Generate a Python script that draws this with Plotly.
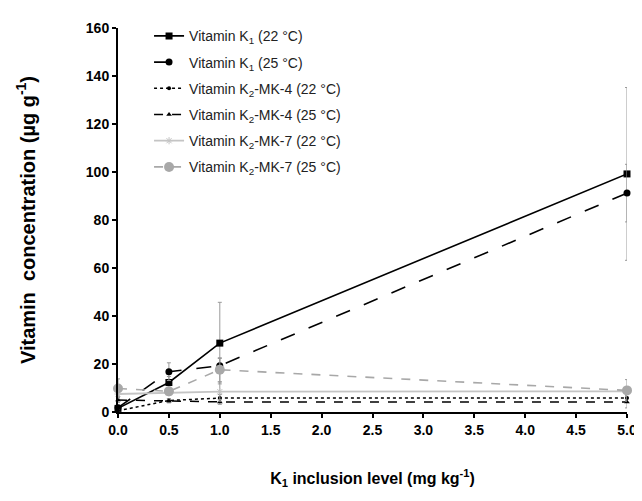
import plotly.graph_objects as go

x_levels = [0.0, 0.5, 1.0, 5.0]

k1_22 = [1.5, 12.3, 28.7, 99.2]
k1_22_err = [0.5, 2.5, 17.0, 36.0]
k1_25 = [1.8, 16.8, 19.3, 91.2]
k1_25_err = [0.8, 3.7, 3.0, 12.0]
mk4_22 = [0.5, 4.8, 5.8, 5.8]
mk4_22_err = [0.3, 0.8, 1.5, 1.0]
mk4_25 = [5.0, 4.6, 4.2, 4.2]
mk4_25_err = [1.0, 0.8, 1.0, 2.5]
mk7_22 = [7.5, 8.0, 8.5, 8.6]
mk7_22_err = [1.0, 1.0, 4.0, 1.0]
mk7_25 = [9.8, 8.6, 17.6, 9.0]
mk7_25_err = [4.0, 1.0, 5.0, 4.5]

names = [
    "Vitamin K<sub>1</sub> (22 °C)",
    "Vitamin K<sub>1</sub> (25 °C)",
    "Vitamin K<sub>2</sub>-MK-4 (22 °C)",
    "Vitamin K<sub>2</sub>-MK-4 (25 °C)",
    "Vitamin K<sub>2</sub>-MK-7 (22 °C)",
    "Vitamin K<sub>2</sub>-MK-7 (25 °C)",
]

series = [
    (k1_22, k1_22_err, dict(color="black", width=1.6, dash="solid"), dict(symbol="square", size=7, color="black")),
    (k1_25, k1_25_err, dict(color="black", width=1.6, dash="longdash"), dict(symbol="circle", size=7, color="black")),
    (mk4_22, mk4_22_err, dict(color="black", width=1.5, dash="dot"), dict(symbol="circle", size=4, color="black")),
    (mk4_25, mk4_25_err, dict(color="black", width=1.5, dash="dash"), dict(symbol="triangle-up", size=5, color="black")),
    (mk7_22, mk7_22_err, dict(color="#c4c4c4", width=1.8, dash="solid"), dict(symbol="asterisk", size=6, color="#c4c4c4", line=dict(color="#c4c4c4", width=1))),
    (mk7_25, mk7_25_err, dict(color="#a8a8a8", width=1.6, dash="dash"), dict(symbol="circle", size=10, color="#a8a8a8")),
]

fig = go.Figure()
for i, (vals, err, line, marker) in enumerate(series):
    fig.add_trace(go.Scatter(
        x=x_levels, y=vals, name=names[i], mode="lines+markers",
        line=line, marker=marker, legendgroup=f"g{i}",
        error_y=dict(type="data", array=err, visible=True, color="#9a9a9a", thickness=1, width=2),
        cliponaxis=False,
    ))

font_family = "Liberation Sans, Arial, sans-serif"
# the page body has an 8px default margin, so the figure is sized to fit inside it
fig.update_layout(
    width=634, height=493,
    margin=dict(l=110, r=15, t=12, b=89),
    paper_bgcolor="white", plot_bgcolor="white",
    font=dict(family=font_family, color="black"),
    legend=dict(x=0.061, y=1.02, xanchor="left", yanchor="top",
                font=dict(size=14, color="#222"), tracegroupgap=5,
                bgcolor="rgba(0,0,0,0)"),
    xaxis=dict(range=[0, 5], tickvals=[0, 0.5, 1, 1.5, 2, 2.5, 3, 3.5, 4, 4.5, 5],
               ticktext=["0.0", "0.5", "1.0", "1.5", "2.0", "2.5", "3.0", "3.5", "4.0", "4.5", "5.0"],
               showline=True, linecolor="black", linewidth=2, ticks="outside",
               ticklen=4, tickwidth=2, tickcolor="black", showgrid=False, zeroline=False,
               automargin=False,
               tickfont=dict(size=14, family=font_family, weight="bold"),
               title=dict(text="K<sub>1</sub> inclusion level (mg kg<sup>-1</sup>)",
                          font=dict(size=16, weight="bold"), standoff=36)),
    yaxis=dict(range=[0, 160], tickvals=[0, 20, 40, 60, 80, 100, 120, 140, 160],
               showline=True, linecolor="black", linewidth=2, ticks="outside",
               ticklen=4, tickwidth=2, tickcolor="black", showgrid=False, zeroline=False,
               automargin=False,
               tickfont=dict(size=14, family=font_family, weight="bold"),
               title=dict(text="Vitamin  concentration (µg g<sup>-1</sup>)",
                          font=dict(size=20, weight="bold"), standoff=45)),
)

fig.write_html("out.html")
